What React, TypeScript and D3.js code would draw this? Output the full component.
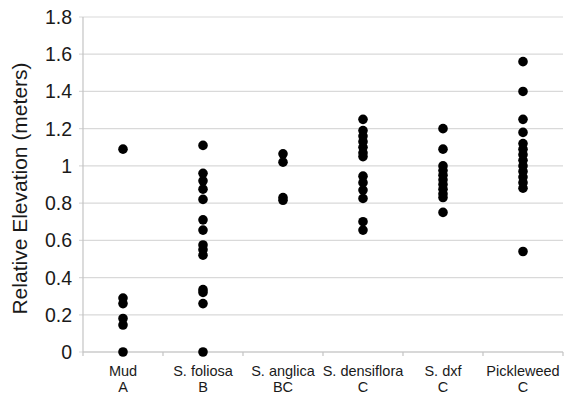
import * as d3 from 'd3';

// ---- data ----
const categories = ['Mud', 'S. foliosa', 'S. anglica', 'S. densiflora', 'S. dxf', 'Pickleweed'];
const groupLetters = ['A', 'B', 'BC', 'C', 'C', 'C'];

const mud = [1.09, 0.29, 0.26, 0.18, 0.145, 0];
const foliosa = [1.11, 0.96, 0.92, 0.875, 0.82, 0.71, 0.655, 0.575, 0.55, 0.52, 0.335, 0.32, 0.26, 0];
const anglica = [1.065, 1.02, 0.83, 0.815];
const densiflora = [1.25, 1.19, 1.16, 1.13, 1.1, 1.07, 1.05, 0.945, 0.91, 0.87, 0.825, 0.7, 0.655];
const dxf = [1.2, 1.09, 1.0, 0.975, 0.95, 0.925, 0.9, 0.875, 0.85, 0.83, 0.75];
const pickleweed = [1.56, 1.4, 1.25, 1.18, 1.12, 1.09, 1.06, 1.03, 1.0, 0.97, 0.94, 0.91, 0.88, 0.54];

const seriesValues = [mud, foliosa, anglica, densiflora, dxf, pickleweed];
const yTicks = [0, 0.2, 0.4, 0.6, 0.8, 1, 1.2, 1.4, 1.6, 1.8];

const width = 564;
const height = 394;
const left = 83;
const right = 563;
const top = 17;
const bottom = 352;

const font = 'Liberation Sans, Arial, Helvetica, sans-serif';

export default function App() {
    const x = d3.scaleBand<string>().domain(categories).range([left, right]);
    const y = d3.scaleLinear().domain([0, 1.8]).range([bottom, top]);

    const boundaries = categories.map((c) => x(c) as number).concat([right]);

    return (
        <svg
            width={width}
            height={height}
            style={{ position: 'absolute', left: 0, top: 0, background: '#fff' }}
        >
            {/* gridlines */}
            {yTicks.map((t) => (
                <line
                    key={'g' + t}
                    x1={left - 4}
                    x2={right}
                    y1={y(t)}
                    y2={y(t)}
                    stroke="#d9d9d9"
                    strokeWidth={1.2}
                />
            ))}

            {/* axes */}
            <line x1={left} x2={left} y1={top} y2={bottom} stroke="#c4c4c4" strokeWidth={1.2} />
            <line x1={left} x2={right} y1={bottom} y2={bottom} stroke="#c4c4c4" strokeWidth={1.2} />
            {boundaries.map((b, i) => (
                <line key={'t' + i} x1={b} x2={b} y1={bottom} y2={bottom + 4} stroke="#c4c4c4" strokeWidth={1.2} />
            ))}

            {/* y tick labels */}
            {yTicks.map((t) => (
                <text
                    key={'l' + t}
                    x={72}
                    y={y(t)}
                    dy="0.36em"
                    textAnchor="end"
                    fontFamily={font}
                    fontSize={19.5}
                    fill="#1a1a1a"
                >
                    {d3.format('~g')(t)}
                </text>
            ))}

            {/* y title */}
            <text
                transform={`translate(27, ${(top + bottom) / 2 + 4}) rotate(-90)`}
                textAnchor="middle"
                fontFamily={font}
                fontSize={21}
                fill="#1a1a1a"
            >
                Relative Elevation (meters)
            </text>

            {/* category labels */}
            {categories.map((c, i) => {
                const cx = (x(c) as number) + x.bandwidth() / 2;
                return (
                    <g key={'c' + c}>
                        <text x={cx} y={376} textAnchor="middle" fontFamily={font} fontSize={14.5} fill="#1a1a1a">
                            {c}
                        </text>
                        <text x={cx} y={392} textAnchor="middle" fontFamily={font} fontSize={14.5} fill="#1a1a1a">
                            {groupLetters[i]}
                        </text>
                    </g>
                );
            })}

            {/* points */}
            {seriesValues.map((vals, i) => {
                const cx = (x(categories[i]) as number) + x.bandwidth() / 2;
                return vals.map((v, j) => (
                    <circle key={i + '-' + j} cx={cx} cy={y(v)} r={4.8} fill="#000" />
                ));
            })}
        </svg>
    );
}
